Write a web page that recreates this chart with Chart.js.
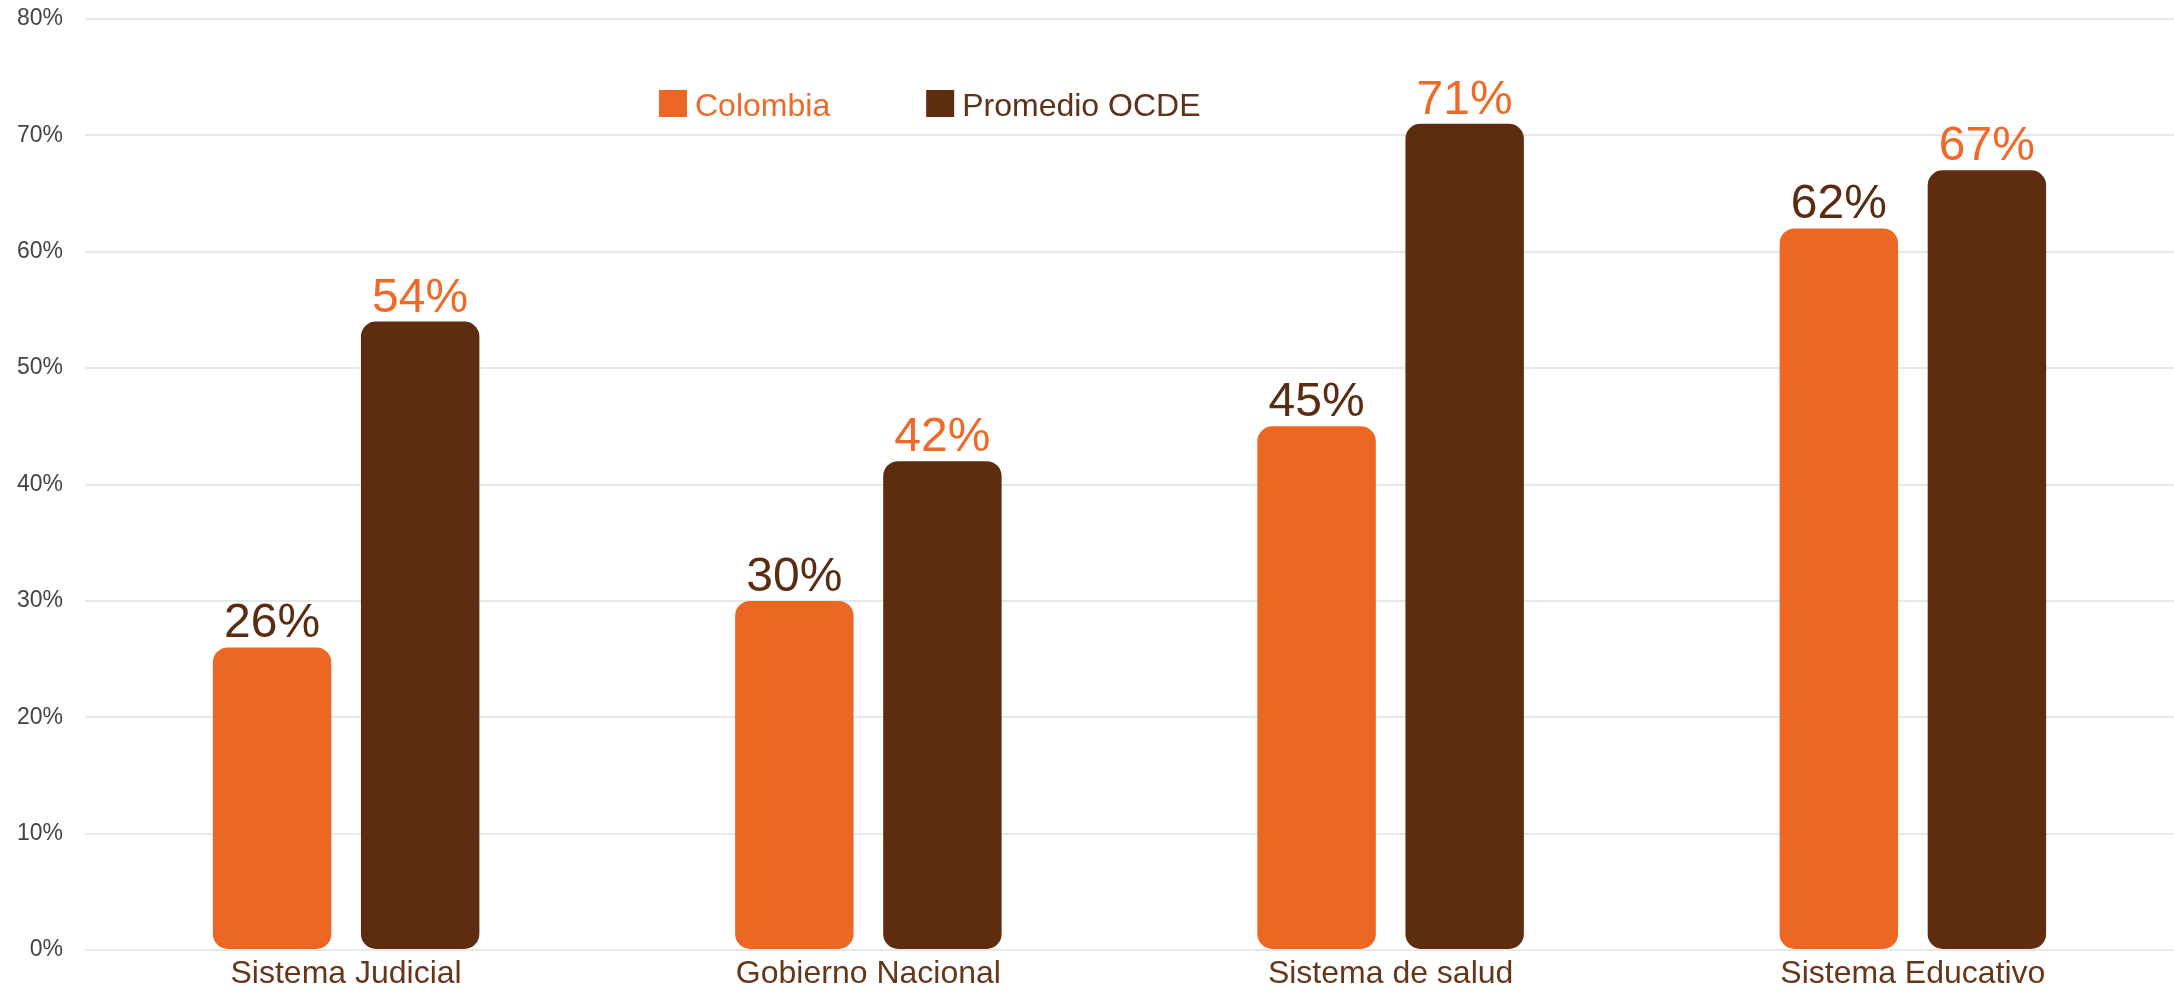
<!DOCTYPE html>
<html lang="es">
<head>
<meta charset="utf-8">
<title>Confianza en instituciones</title>
<script src="https://cdn.jsdelivr.net/npm/chart.js@4.4.1/dist/chart.umd.min.js"></script>
<style>
  html, body { margin: 0; padding: 0; background: #fff; }
  #wrap { width: 2174px; height: 992px; position: relative; }
</style>
</head>
<body>
<div id="wrap"><canvas id="chart"></canvas></div>
<script>
const categories = ["Sistema Judicial", "Gobierno Nacional", "Sistema de salud", "Sistema Educativo"];
const colombia = [26, 30, 45, 62];
const ocde = [54, 42, 71, 67];
const yTicks = [0, 10, 20, 30, 40, 50, 60, 70, 80];

const ORANGE = "#ec6723";
const BROWN = "#5e2d10";
const TEXT_BROWN = "#663619";
const FONT = "'Liberation Sans', Arial, Helvetica, sans-serif";

// value labels over each bar (colour of the other series, as in the original)
const valueLabels = {
  id: "valueLabels",
  afterDatasetsDraw(chart) {
    const ctx = chart.ctx;
    ctx.save();
    ctx.font = `48px ${FONT}`;
    ctx.textAlign = "center";
    ctx.textBaseline = "alphabetic";
    chart.data.datasets.forEach((ds, i) => {
      const meta = chart.getDatasetMeta(i);
      meta.data.forEach((bar, j) => {
        ctx.fillStyle = ds.labelColor;
        ctx.fillText(`${ds.data[j]}%`, bar.x, bar.y - 10);
      });
    });
    ctx.restore();
  }
};

// legend sits inside the plot, left of centre
const insideLegend = {
  id: "insideLegend",
  afterDraw(chart) {
    const ctx = chart.ctx;
    ctx.save();
    ctx.font = `32px ${FONT}`;
    ctx.textBaseline = "middle";
    let x = 659;
    const y = 90;
    chart.data.datasets.forEach((ds) => {
      ctx.fillStyle = ds.backgroundColor;
      ctx.fillRect(x, y, 28, 27);
      ctx.fillStyle = ds.legendColor;
      ctx.fillText(ds.label, x + 36, y + 17);
      x += 36 + ctx.measureText(ds.label).width + 96;
    });
    ctx.restore();
  }
};

new Chart(document.getElementById("chart"), {
  type: "bar",
  data: {
    labels: categories,
    datasets: [
      {
        label: "Colombia",
        data: colombia,
        backgroundColor: ORANGE,
        labelColor: "#5a2d12",
        legendColor: "#ee6a28"
      },
      {
        label: "Promedio OCDE",
        data: ocde,
        backgroundColor: BROWN,
        labelColor: "#ee6a28",
        legendColor: "#5e3118"
      }
    ]
  },
  options: {
    responsive: true,
    maintainAspectRatio: false,
    animation: false,
    layout: { padding: { left: 0, top: 19, right: 0, bottom: 0 } },
    datasets: {
      bar: {
        categoryPercentage: 0.567,
        barPercentage: 0.8,
        borderRadius: 15,
        borderSkipped: false
      }
    },
    plugins: {
      legend: { display: false },
      tooltip: { enabled: false }
    },
    scales: {
      x: {
        grid: { display: false, drawTicks: false },
        border: { display: false },
        afterFit: (scale) => { scale.height = 42; },
        ticks: {
          padding: 5,
          color: TEXT_BROWN,
          font: { family: FONT, size: 32 }
        }
      },
      y: {
        min: 0,
        max: 80,
        afterBuildTicks: (scale) => {
          scale.ticks = yTicks.map((v) => ({ value: v }));
        },
        afterFit: (scale) => {
          scale.width = 85;
          scale.paddingTop = 0;
          scale.paddingBottom = 0;
        },
        grid: { color: "#e6e8e8", lineWidth: 2, drawTicks: false },
        border: { display: false },
        ticks: {
          padding: 22,
          color: "#444",
          font: { family: FONT, size: 23 },
          callback: (v) => `${v}%`
        }
      }
    }
  },
  plugins: [valueLabels, insideLegend]
});
</script>
</body>
</html>
